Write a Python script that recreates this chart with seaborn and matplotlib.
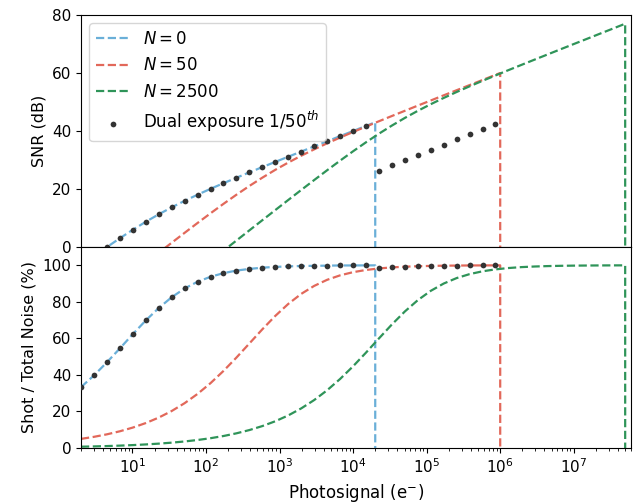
import numpy as np
import pandas as pd
import matplotlib
matplotlib.use("Agg")
import matplotlib.pyplot as plt
import seaborn as sns

# Photosignal grid (e-)
photosignal = [2, 3, 4.5, 6.75, 10.125, 15.19, 22.78, 34.17, 51.26, 76.89,
               115.3, 173.0, 259.5, 389.2, 583.9, 875.8, 1313.7, 1970.6, 2955.9, 4433.9,
               6650.8, 9976.2, 14964, 22446, 33669, 50504, 75756, 113634, 170451, 255677,
               383515, 575273, 862910, 1294365, 1941547, 2912321, 4368481, 6552722,
               9829083, 14743625, 22115437, 33173156]

# full-well ends
end_n0, end_n50, end_n2500 = 2e4, 1e6, 5e7

# x tick positions
xtick_pos = [1e1, 1e2, 1e3, 1e4, 1e5, 1e6, 1e7]

# SNR (dB)
snr_n0 = [-6.53, -3.25, -0.05, 3.02, 5.94, 8.69, 11.27, 13.67, 15.92, 18.04,
          20.06, 22.00, 23.88, 25.73, 27.55, 29.35, 31.13, 32.91, 34.68, 36.45,
          38.22, 39.98, 41.75]
snr_n0_end = 43.01
snr_n50 = [-23.02, -19.50, -15.99, -12.48, -8.98, -5.48, -2.00, 1.46, 4.89, 8.29,
           11.62, 14.88, 18.03, 21.05, 23.91, 26.61, 29.12, 31.47, 33.67, 35.75,
           37.73, 39.65, 41.52, 43.36, 45.17, 46.96, 48.75, 50.52, 52.30, 54.06,
           55.83, 57.59, 59.36]
snr_n50_end = 60.00
snr_n2500 = [-40.00, -36.48, -32.96, -29.44, -25.91, -22.39, -18.87, -15.35, -11.83, -8.31,
             -4.79, -1.28, 2.23, 5.74, 9.24, 12.73, 16.21, 19.66, 23.08, 26.46,
             29.77, 32.99, 36.10, 39.07, 41.87, 44.50, 46.95, 49.24, 51.40, 53.45,
             55.41, 57.31, 59.16, 60.99, 62.79, 64.58, 66.36, 68.14, 69.91, 71.67,
             73.44, 75.20]
snr_n2500_end = 76.99
snr_dual = snr_n0 + [26.37, 28.18, 29.97, 31.76, 33.53, 35.31, 37.07, 38.84, 40.60, 42.37]

# Shot / total noise (%)
frac_n0 = [33.3, 39.7, 46.9, 54.5, 62.3, 69.8, 76.6, 82.5, 87.3, 91.0,
           93.7, 95.7, 97.1, 98.0, 98.7, 99.1, 99.4, 99.6, 99.7, 99.8,
           99.9, 99.9, 99.95]
frac_n0_end = 99.96
frac_n50 = [4.99, 6.11, 7.48, 9.15, 11.18, 13.65, 16.64, 20.24, 24.54, 29.61,
            35.49, 42.17, 49.49, 57.21, 64.96, 72.29, 78.84, 84.34, 88.71, 92.04,
            94.48, 96.22, 97.43, 98.26, 98.83, 99.22, 99.48, 99.65, 99.77, 99.84,
            99.90, 99.93, 99.95]
frac_n50_end = 99.96
frac_n2500 = [0.71, 0.87, 1.06, 1.30, 1.59, 1.95, 2.39, 2.92, 3.58, 4.38,
              5.36, 6.56, 8.03, 9.82, 12.00, 14.64, 17.83, 21.67, 26.23, 31.59,
              37.76, 44.68, 52.18, 59.95, 67.60, 74.70, 80.90, 86.00, 90.00, 92.99,
              95.16, 96.70, 97.76, 98.49, 98.99, 99.32, 99.55, 99.70, 99.80, 99.86,
              99.91, 99.94]
frac_n2500_end = 99.96
frac_dual = frac_n0 + [98.3, 98.8, 99.2, 99.5, 99.65, 99.77, 99.84, 99.9, 99.93, 99.95]

labels = [r"$N = 0$", r"$N = 50$", r"$N = 2500$"]
colors = ["#6aafd8", "#e2685a", "#2f9459"]
dual_label = r"Dual exposure 1/50$^{th}$"


def curve(vals, end_x, end_y):
    n = len(vals)
    xs = list(photosignal[:n]) + [end_x, end_x]
    return xs, list(vals) + [end_y, 0.0]


fig = plt.figure(figsize=(6.36, 5.04), dpi=100)
ax1 = fig.add_axes([81 / 636, 1 - 247 / 504, 550 / 636, 232 / 504])
ax2 = fig.add_axes([81 / 636, 1 - 448 / 504, 550 / 636, 201 / 504], sharex=ax1)

series_top = [(snr_n0, end_n0, snr_n0_end), (snr_n50, end_n50, snr_n50_end),
              (snr_n2500, end_n2500, snr_n2500_end)]
series_bot = [(frac_n0, end_n0, frac_n0_end), (frac_n50, end_n50, frac_n50_end),
              (frac_n2500, end_n2500, frac_n2500_end)]

for ax, series, dual in [(ax1, series_top, snr_dual), (ax2, series_bot, frac_dual)]:
    for (vals, ex, ey), lab, col in zip(series, labels, colors):
        xs, ys = curve(vals, ex, ey)
        df = pd.DataFrame({"x": xs, "y": ys})
        sns.lineplot(data=df, x="x", y="y", ax=ax, color=col, linestyle="--",
                     linewidth=1.6, sort=False, estimator=None, label=lab,
                     legend=False)
    dd = pd.DataFrame({"x": photosignal[:len(dual)], "y": dual})
    sns.scatterplot(data=dd, x="x", y="y", ax=ax, color="#333333", s=17,
                    linewidth=0, zorder=5, label=dual_label, legend=False)

ax1.set_xscale("log")
ax1.set_xlim(2, 6e7)
ax2.set_xticks(xtick_pos)
ax1.set_ylim(0, 80)
ax1.set_yticks([0, 20, 40, 60, 80])
ax2.set_ylim(0, 110)
ax2.set_yticks([0, 20, 40, 60, 80, 100])
ax1.tick_params(axis="x", which="both", labelbottom=False)
ax1.set_xlabel("")
ax1.set_ylabel("SNR (dB)", fontsize=11.5)
ax2.set_ylabel("Shot / Total Noise (%)", fontsize=11.5)
ax2.set_xlabel("Photosignal (e$^{-}$)", fontsize=12)
for ax in (ax1, ax2):
    ax.tick_params(labelsize=11)

h, l = ax1.get_legend_handles_labels()
ax1.legend(h, l, loc="upper left", fontsize=12)

fig.savefig("out.png", dpi=100)
